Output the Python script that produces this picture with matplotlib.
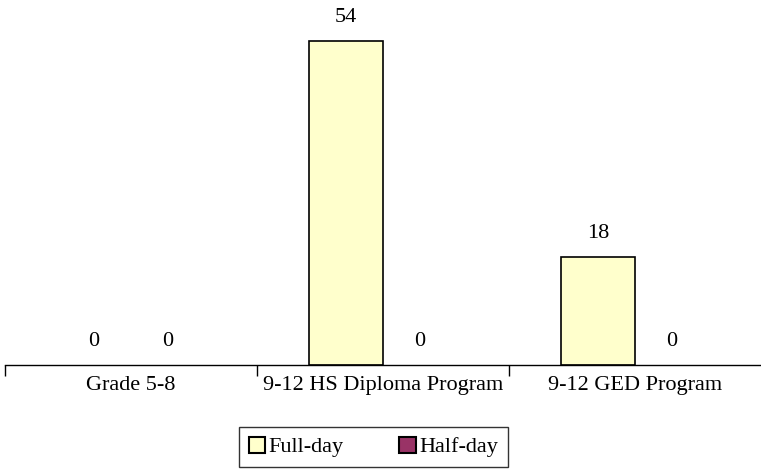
import numpy as np
import matplotlib
matplotlib.use("Agg")
import matplotlib.pyplot as plt

categories = ["Grade 5-8", "9-12 HS Diploma Program", "9-12 GED Program"]
full_day = [0, 54, 18]
half_day = [0, 0, 0]
series_names = ["Full-day", "Half-day"]
colors = ["#FFFFCC", "#993366"]

plt.rcParams['font.family'] = ['Liberation Serif', 'DejaVu Serif']

fig = plt.figure(figsize=(7.61, 4.72), dpi=100)
ax = fig.add_axes([5 / 761, 1 - 365 / 472, 756 / 761, 360 / 472])

x = np.arange(len(categories))
bar_width = 0.294
fs = 16

bars = []
for i, (vals, name) in enumerate(zip([full_day, half_day], series_names)):
  offs = (i - 0.5) * bar_width
  edges = ['black' if v > 0 else 'none' for v in vals]
  b = ax.bar(x + offs, vals, width=bar_width, color=colors[i], edgecolor=edges,
             linewidth=1.2, label=name)
  bars.append(b)
  for xi, v in zip(x + offs, vals):
    ax.annotate(str(v), (xi, v), xytext=(0, 17), textcoords='offset points',
                ha='center', va='center', fontsize=fs)

ax.set_xlim(-0.5, 2.5)
ax.set_ylim(0, 60)

ax.spines['top'].set_visible(False)
ax.spines['right'].set_visible(False)
ax.spines['left'].set_visible(False)
ax.spines['bottom'].set_linewidth(1.0)
ax.set_yticks([])

ax.set_xticks(x)
ax.set_xticklabels(categories, fontsize=fs)
ax.tick_params(axis='x', which='major', length=0, pad=8)
ax.set_xticks([-0.5, 0.5, 1.5], minor=True)
ax.tick_params(axis='x', which='minor', length=8, width=1.0, direction='out')

handles = [plt.Rectangle((0, 0), 1, 1, facecolor=c, edgecolor='black', linewidth=1.5)
           for c in colors]
leg = fig.legend(handles=handles, labels=series_names, ncol=2, loc='center',
                 bbox_to_anchor=(373.5 / 761, 1 - 447 / 472), frameon=True,
                 fancybox=False, edgecolor='black', fontsize=fs,
                 handlelength=0.75, handleheight=0.75, handletextpad=0.15,
                 columnspacing=2.5, borderpad=0.45, borderaxespad=0)
leg.get_frame().set_linewidth(1.0)

fig.savefig("out.png", dpi=100)
